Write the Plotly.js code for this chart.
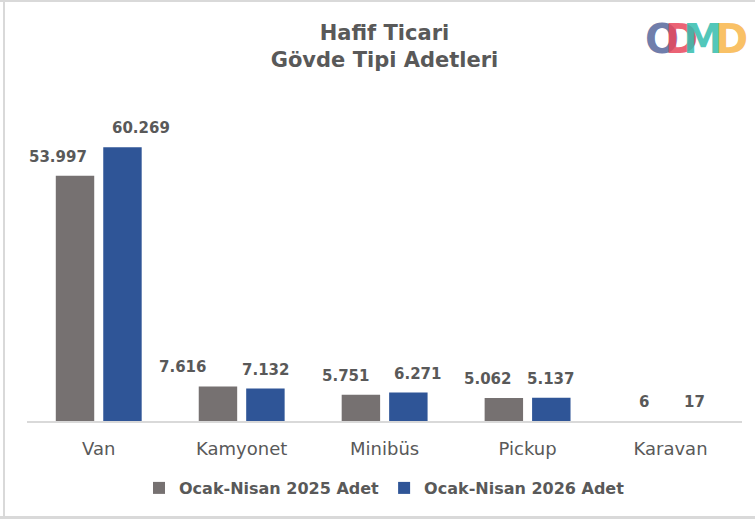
<!DOCTYPE html>
<html>
<head>
<meta charset="utf-8">
<script src="https://cdn.plot.ly/plotly-3.0.1.min.js"></script>
<style>
  html, body { margin: 0; padding: 0; background: #ffffff; }
  #chart { width: 755px; height: 520px; }
</style>
</head>
<body>
<div id="chart"></div>
<script>
// ---- data ----
const categories = ["Van", "Kamyonet", "Minibüs", "Pickup", "Karavan"];
const series2025 = [53997, 7616, 5751, 5062, 6];
const series2026 = [60269, 7132, 6271, 5137, 17];
const seriesNames = ["Ocak-Nisan 2025 Adet", "Ocak-Nisan 2026 Adet"];
const titleLines = ["Hafif Ticari", "Gövde Tipi Adetleri"];

// ---- styling ----
const W = 755, H = 520;
const M = { l: 27, r: 13, t: 103, b: 99 };
const colors = ["#767171", "#2F5597"];
const textColor = "#595959";
const fontFamily = "DejaVu Sans, Verdana, sans-serif";
// per-label horizontal nudges (px), imitating the hand-placed labels
const labelNudge = [
  [-17, -35, -15, -16, -3],
  [19, 0, 9, -1, 0]
];
const bargap = 0.336, bargroupgap = 0.19;

function fmt(v) {
  return String(v).replace(/\B(?=(\d{3})+(?!\d))/g, ".");
}

const plotW = W - M.l - M.r, plotH = H - M.t - M.b;
const px2x = px => (px - M.l) / plotW;
const py2y = py => (H - M.b - py) / plotH;

const allSeries = [series2025, series2026];
const traces = allSeries.map((vals, i) => ({
  type: "bar",
  name: seriesNames[i],
  x: categories,
  y: vals,
  marker: { color: colors[i] },
  hoverinfo: "x+y"
}));

// bar slot offset in px for grouped bars
const catW = plotW / categories.length;
const slot = catW * (1 - bargap) / 2;

const annotations = [];
allSeries.forEach((vals, i) => {
  vals.forEach((v, j) => {
    annotations.push({
      x: categories[j], y: v, xref: "x", yref: "y",
      text: fmt(v), showarrow: false,
      yanchor: "bottom", xanchor: "center",
      xshift: (i === 0 ? -slot / 2 : slot / 2) + labelNudge[i][j],
      yshift: 8,
      font: { family: fontFamily, size: 15, color: textColor, weight: "bold" }
    });
  });
});

// ODMD logo (one text, coloured overlapping letters)
const logoLetters = [["O", "#56679C", -14], ["D", "#E8475C", -15], ["M", "#33BDAE", -8], ["D", "#F8B64A", 0]];
annotations.push({
  x: px2x(643), y: py2y(39), xref: "paper", yref: "paper",
  text: "<b>" + logoLetters.map(l =>
    "<span style='color:" + l[1] + ";fill-opacity:0.85;letter-spacing:" + l[2] + "px'>" + l[0] + "</span>").join("") + "</b>",
  showarrow: false, xanchor: "left", yanchor: "middle",
  font: { family: fontFamily, size: 40, color: "#56679C" }
});

const borderColor = "#D9D9D9";
const shapes = [
  { type: "line", xref: "paper", yref: "paper", x0: px2x(0), x1: px2x(W), y0: py2y(1), y1: py2y(1),
    line: { color: borderColor, width: 2 } },
  { type: "line", xref: "paper", yref: "paper", x0: px2x(4), x1: px2x(4), y0: py2y(0), y1: py2y(518),
    line: { color: borderColor, width: 2 } },
  { type: "line", xref: "paper", yref: "paper", x0: px2x(0), x1: px2x(W), y0: py2y(517.5), y1: py2y(517.5),
    line: { color: borderColor, width: 3 } }
];

const layout = {
  width: W, height: H,
  margin: M,
  paper_bgcolor: "#ffffff", plot_bgcolor: "#ffffff",
  barmode: "group", bargap: bargap, bargroupgap: bargroupgap,
  title: {
    text: titleLines.join("<br>"),
    x: 0.5, xref: "paper", xanchor: "center",
    y: 1 - 40 / H, yref: "container", yanchor: "middle",
    font: { family: fontFamily, size: 21, color: textColor, weight: "bold" }
  },
  xaxis: {
    showline: true, linecolor: borderColor, linewidth: 1.5,
    ticks: "outside", ticklen: 11, tickcolor: "rgba(0,0,0,0)",
    tickfont: { family: fontFamily, size: 18, color: textColor },
    showgrid: false, zeroline: false, fixedrange: true
  },
  yaxis: {
    visible: false, range: [0, 70000], showgrid: false, zeroline: false, fixedrange: true
  },
  showlegend: true,
  legend: {
    orientation: "h", x: 0.5, xanchor: "center", y: py2y(488), yanchor: "middle",
    font: { family: fontFamily, size: 16, color: textColor, weight: "bold" },
    itemclick: false, itemdoubleclick: false
  },
  annotations: annotations,
  shapes: shapes
};

Plotly.newPlot("chart", traces, layout, { displayModeBar: false, staticPlot: true });
</script>
</body>
</html>
